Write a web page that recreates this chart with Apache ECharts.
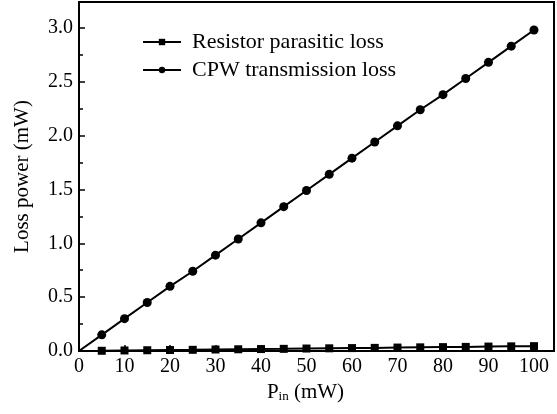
<!DOCTYPE html>
<html>
<head>
<meta charset="utf-8">
<script src="https://cdn.jsdelivr.net/npm/echarts@6/dist/echarts.min.js"></script>
<style>
  html, body { margin: 0; padding: 0; background: #fff; }
  #chart { width: 557px; height: 414px; }
</style>
</head>
<body>
<div id="chart"></div>
<script>
// Pin (mW) sample points
const pinValues = [0, 5, 10, 15, 20, 25, 30, 35, 40, 45, 50, 55, 60, 65, 70, 75, 80, 85, 90, 95, 100];
// loss power (mW)
const resistorLoss = [0, 0.002, 0.005, 0.007, 0.009, 0.011, 0.014, 0.016, 0.018, 0.020, 0.023, 0.025, 0.027, 0.029, 0.032, 0.034, 0.036, 0.038, 0.041, 0.043, 0.045];
const cpwLoss = [0, 0.15, 0.30, 0.45, 0.60, 0.74, 0.89, 1.04, 1.19, 1.34, 1.49, 1.64, 1.79, 1.94, 2.09, 2.24, 2.38, 2.53, 2.68, 2.83, 2.98];
const seriesNames = ['Resistor parasitic loss', 'CPW transmission loss'];
const xTicks = [0, 10, 20, 30, 40, 50, 60, 70, 80, 90, 100];

const FONT = '"Liberation Serif", "Times New Roman", serif';
const INK = '#000';

const chart = echarts.init(document.getElementById('chart'), null, { renderer: 'canvas' });

// first point sits on the origin, no marker drawn there
const toData = vals => vals.map((v, i) => i === 0
  ? { value: [pinValues[i], v], symbolSize: 0 }
  : [pinValues[i], v]);

const makeSeries = (name, vals, symbol, size) => ({
  name,
  type: 'line',
  data: toData(vals),
  symbol,
  symbolSize: size,
  showAllSymbol: true,
  clip: false,
  lineStyle: { color: INK, width: 2 },
  itemStyle: { color: INK },
  emphasis: { disabled: true },
});

chart.setOption({
  backgroundColor: '#fff',
  animation: false,
  textStyle: { fontFamily: FONT, color: INK },
  grid: {
    left: 79, right: 3, top: 2, bottom: 63,
    outerBoundsMode: 'none',
    show: true, borderColor: INK, borderWidth: 2,
  },
  legend: {
    left: 137, top: 26,
    orient: 'vertical',
    itemWidth: 38, itemHeight: 8, itemGap: 6,
    textStyle: { fontFamily: FONT, fontSize: 22, color: INK, padding: [0, 0, 0, 6] },
    data: seriesNames,
  },
  xAxis: {
    type: 'value',
    min: 0, max: 104.4,
    name: '{p|P}{sub|in}{p| (mW)}',
    nameLocation: 'middle', nameGap: 29,
    nameTextStyle: {
      padding: [0, 22, 0, 0],
      rich: {
        p: { fontFamily: FONT, fontSize: 21, color: INK },
        sub: { fontFamily: FONT, fontSize: 13, color: INK, verticalAlign: 'bottom', padding: [8, 0, 0, 0] },
      },
    },
    axisLine: { lineStyle: { color: INK, width: 2 } },
    axisTick: { inside: true, length: 6, lineStyle: { color: INK, width: 1.5 }, customValues: xTicks },
    axisLabel: {
      fontFamily: FONT, fontSize: 20, color: INK, margin: 6,
      customValues: xTicks,
    },
    splitLine: { show: false },
  },
  yAxis: {
    type: 'value',
    min: 0, max: 3.24, interval: 0.5,
    name: 'Loss power (mW)',
    nameLocation: 'middle', nameGap: 46,
    nameTextStyle: { fontFamily: FONT, fontSize: 21, color: INK },
    axisLine: { show: true, lineStyle: { color: INK, width: 2 } },
    axisTick: { show: true, inside: true, length: 6, lineStyle: { color: INK, width: 1.5 } },
    minorTick: { show: true, splitNumber: 2, length: 4, lineStyle: { color: INK, width: 1.5 } },
    axisLabel: {
      fontFamily: FONT, fontSize: 20, color: INK, margin: 6,
      showMaxLabel: false,
      formatter: v => v.toFixed(1),
    },
    splitLine: { show: false },
  },
  series: [
    makeSeries(seriesNames[0], resistorLoss, 'rect', 8),
    makeSeries(seriesNames[1], cpwLoss, 'circle', 9),
  ],
});
</script>
</body>
</html>
